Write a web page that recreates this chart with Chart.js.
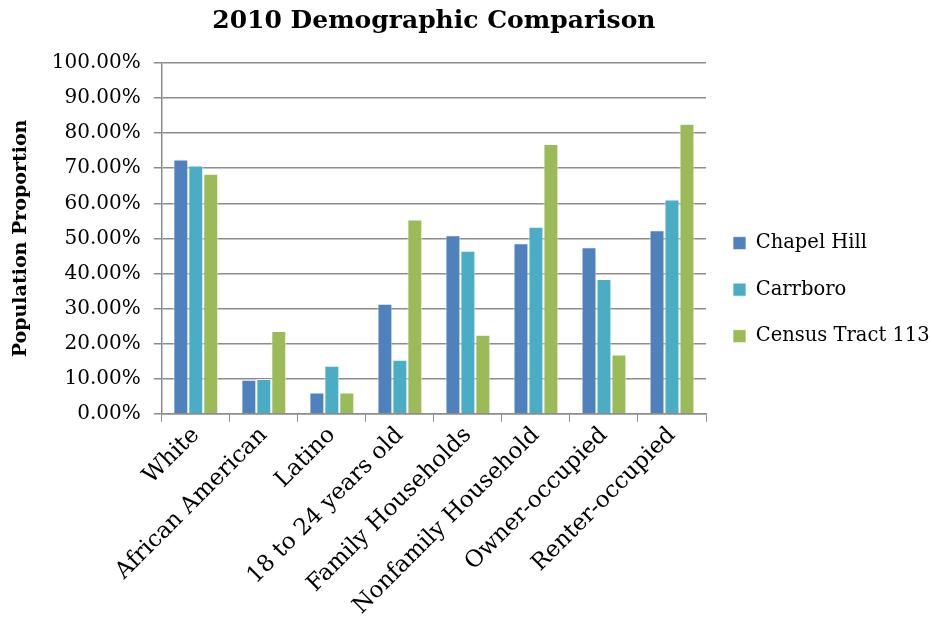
<!DOCTYPE html>
<html>
<head>
<meta charset="utf-8">
<script src="https://cdn.jsdelivr.net/npm/chart.js@4/dist/chart.umd.min.js"></script>
<style>
  html, body { margin: 0; padding: 0; background: #fff; }
  #wrap { width: 932px; height: 620px; }
</style>
</head>
<body>
<div id="wrap"><canvas id="chart"></canvas></div>
<script>
// categories and series
const categories = [
  "White", "African American", "Latino", "18 to 24 years old",
  "Family Households", "Nonfamily Household", "Owner-occupied", "Renter-occupied"
];
const seriesNames = ["Chapel Hill", "Carrboro", "Census Tract 113"];
const chapelHill = [72.5, 9.7, 6.1, 31.4, 50.9, 48.6, 47.5, 52.3];
const carrboro = [70.8, 9.9, 13.7, 15.4, 46.5, 53.3, 38.4, 61.1];
const censusTract = [68.4, 23.6, 6.1, 55.4, 22.5, 76.9, 16.9, 82.7];
const seriesColors = ["#4f81bd", "#4bacc6", "#9bbb59"];

const serif = "'DejaVu Serif', 'Liberation Serif', serif";
const gridGray = "#8c8c8c";

function makeDataset(i, values) {
  return {
    label: seriesNames[i],
    data: values,
    backgroundColor: seriesColors[i],
    borderColor: "rgba(255,255,255,0.7)",
    borderWidth: 1,
    categoryPercentage: 0.66,
    barPercentage: 1.0,
  };
}

// center the title over the plot area, the way the original does
var centerTitle = {
  id: "centerTitle",
  afterLayout: function (chart) {
    if (chart.titleBlock) {
      chart.titleBlock.left = chart.chartArea.left;
      chart.titleBlock.right = chart.chartArea.right;
    }
  },
};

var ctx = document.getElementById("chart").getContext("2d");
var myBar = new Chart(ctx, {
  type: "bar",
  data: {
    labels: categories,
    datasets: [
      makeDataset(0, chapelHill),
      makeDataset(1, carrboro),
      makeDataset(2, censusTract),
    ],
  },
  plugins: [centerTitle],
  options: {
    responsive: true,
    maintainAspectRatio: false,
    animation: false,
    layout: { padding: { top: 6, right: 0, left: 10, bottom: 0 } },
    plugins: {
      title: {
        display: true,
        text: "2010 Demographic Comparison",
        color: "#000",
        font: { family: serif, size: 25, weight: "bold" },
        padding: { top: 0, bottom: 27 },
      },
      legend: {
        position: "right",
        align: "start",
        maxWidth: 226,
        title: {
          display: true,
          text: " ",
          padding: { top: 198, bottom: 0 },
          font: { size: 2 },
        },
        labels: {
          color: "#000",
          font: { family: serif, size: 19.5 },
          boxWidth: 13,
          boxHeight: 13,
          padding: 27,
        },
      },
      tooltip: { enabled: false },
    },
    scales: {
      x: {
        grid: {
          offset: true,
          drawOnChartArea: false,
          color: gridGray,
          tickLength: 8,
        },
        border: { color: gridGray, width: 1.5 },
        ticks: {
          color: "#000",
          maxRotation: 45,
          minRotation: 45,
          font: { family: serif, size: 23 },
          padding: 0,
        },
      },
      y: {
        min: 0,
        max: 100,
        grid: { color: gridGray, lineWidth: 1.5, tickLength: 8 },
        border: { color: gridGray, width: 1.5 },
        ticks: {
          stepSize: 10,
          color: "#000",
          font: { family: serif, size: 20 },
          padding: 13,
          callback: function (v) {
            return v.toFixed(2) + "%";
          },
        },
        title: {
          display: true,
          text: "Population Proportion",
          color: "#000",
          font: { family: serif, size: 19, weight: "bold" },
          padding: { top: 0, bottom: 6 },
        },
      },
    },
  },
});
</script>
</body>
</html>
